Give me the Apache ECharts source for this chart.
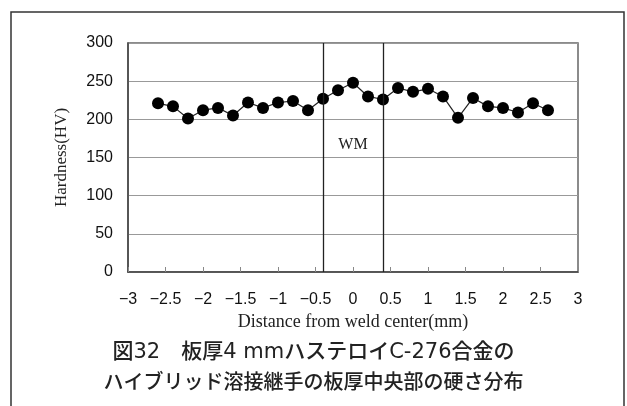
<!DOCTYPE html>
<html><head><meta charset="utf-8">
<script src="https://cdn.jsdelivr.net/npm/echarts@6/dist/echarts.min.js"></script>
<style>html,body{margin:0;padding:0;background:#fff}#c{width:627px;height:406px}</style>
</head><body><div id="c"></div>
<script>
const xPositions = [-2.6,-2.4,-2.2,-2.0,-1.8,-1.6,-1.4,-1.2,-1.0,-0.8,-0.6,-0.4,-0.2,0,0.2,0.4,0.6,0.8,1.0,1.2,1.4,1.6,1.8,2.0,2.2,2.4,2.6];
const hardness = [221,217,201,212,215,205,222,215,222,224,212,227,238,248,230,226,241,236,240,230,202,228,217,215,209,221,212];
const wmBoundaries = [-0.4, 0.4];
const xTicks = [-3,-2.5,-2,-1.5,-1,-0.5,0,0.5,1,1.5,2,2.5,3];
const yTicks = [0,50,100,150,200,250,300];
const captionLines = ['図32　板厚4 mmハステロイC-276合金の','ハイブリッド溶接継手の板厚中央部の硬さ分布'];

const chart = echarts.init(document.getElementById('c'), null, {renderer:'canvas'});
chart.setOption({
  animation:false,
  backgroundColor:'#fff',
  grid:{left:128, right:49, top:43, bottom:134, show:true, borderColor:'#666', borderWidth:1.5, backgroundColor:'transparent'},
  xAxis:{type:'value', min:xTicks[0], max:xTicks[xTicks.length-1], interval:0.5,
    axisLine:{show:true, onZero:false, lineStyle:{color:'#444', width:1.5}},
    axisTick:{show:true, inside:true, length:5, lineStyle:{color:'#888'}},
    splitLine:{show:false},
    axisLabel:{margin:20, fontFamily:'Liberation Sans, Arial, sans-serif', fontSize:16, color:'#111',
      formatter:v=>String(v).replace('-','\u2212')},
    name:'Distance from weld center(mm)', nameLocation:'middle', nameGap:40,
    nameTextStyle:{fontFamily:'Liberation Serif, Times New Roman, serif', fontSize:18, color:'#222'}},
  yAxis:{type:'value', min:yTicks[0], max:yTicks[yTicks.length-1], interval:50,
    axisLine:{show:true, onZero:false, lineStyle:{color:'#444', width:1.5}},
    axisTick:{show:false},
    splitLine:{show:true, lineStyle:{color:'#999', width:1.2}},
    axisLabel:{margin:15, fontFamily:'Liberation Sans, Arial, sans-serif', fontSize:16, color:'#111'},
    name:'Hardness(HV)', nameLocation:'middle', nameGap:58,
    nameTextStyle:{fontFamily:'Liberation Serif, Times New Roman, serif', fontSize:17, color:'#222'}},
  series:[{
    type:'line',
    data:xPositions.map((x,i)=>[x,hardness[i]]),
    symbol:'circle', symbolSize:12,
    itemStyle:{color:'#000'},
    lineStyle:{color:'#222', width:1.2},
    markLine:{silent:true, symbol:'none', label:{show:false},
      lineStyle:{color:'#222', width:1.3, type:'solid'},
      data:wmBoundaries.map(v=>({xAxis:v}))},
    markPoint:{symbol:'circle', symbolSize:0,
      label:{show:true, formatter:'WM', fontFamily:'Liberation Serif, Times New Roman, serif', fontSize:16, color:'#222'},
      data:[{coord:[0,166]}]}
  }],
  graphic:[
    {type:'rect', shape:{x:11, y:12, width:613, height:420}, style:{fill:'none', stroke:'#333', lineWidth:1.5}, silent:true},
    {type:'text', left:'center', top:342, style:{text:captionLines[0], font:'500 21px "DejaVu Sans", "Noto Sans CJK JP", sans-serif', fill:'#222'}},
    {type:'text', left:'center', top:371, style:{text:captionLines[1], font:'500 20px "Noto Sans CJK JP", sans-serif', fill:'#222'}}
  ]
});
</script></body></html>
